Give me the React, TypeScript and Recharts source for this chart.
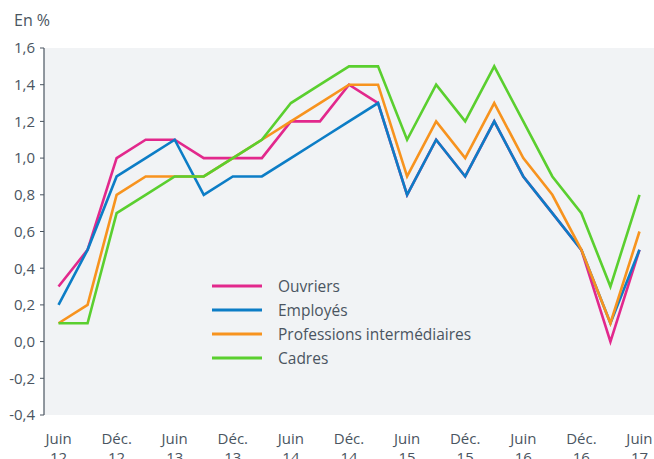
import React from 'react';
import { LineChart, Line, XAxis, YAxis, CartesianGrid, Legend } from 'recharts';

const quarters = [
  'Juin 12', 'Sept. 12', 'Déc. 12', 'Mars 13', 'Juin 13', 'Sept. 13', 'Déc. 13',
  'Mars 14', 'Juin 14', 'Sept. 14', 'Déc. 14', 'Mars 15', 'Juin 15', 'Sept. 15',
  'Déc. 15', 'Mars 16', 'Juin 16', 'Sept. 16', 'Déc. 16', 'Mars 17', 'Juin 17',
];

const ouvriers = [0.3, 0.5, 1.0, 1.1, 1.1, 1.0, 1.0, 1.0, 1.2, 1.2, 1.4, 1.3, 0.8, 1.1, 0.9, 1.2, 0.9, 0.7, 0.5, 0.0, 0.5];
const employes = [0.2, 0.5, 0.9, 1.0, 1.1, 0.8, 0.9, 0.9, 1.0, 1.1, 1.2, 1.3, 0.8, 1.1, 0.9, 1.2, 0.9, 0.7, 0.5, 0.1, 0.5];
const professions = [0.1, 0.2, 0.8, 0.9, 0.9, 0.9, 1.0, 1.1, 1.2, 1.3, 1.4, 1.4, 0.9, 1.2, 1.0, 1.3, 1.0, 0.8, 0.5, 0.1, 0.6];
const cadres = [0.1, 0.1, 0.7, 0.8, 0.9, 0.9, 1.0, 1.1, 1.3, 1.4, 1.5, 1.5, 1.1, 1.4, 1.2, 1.5, 1.2, 0.9, 0.7, 0.3, 0.8];

const yTicks = [-0.4, -0.2, 0.0, 0.2, 0.4, 0.6, 0.8, 1.0, 1.2, 1.4, 1.6];
const labelIndices = [0, 2, 4, 6, 8, 10, 12, 14, 16, 18, 20];
const boundaryTicks = Array.from({ length: quarters.length + 1 }, (_, k) => k - 0.5);

const seriesDefs = [
  { key: 'ouvriers', name: 'Ouvriers', color: '#e2288c' },
  { key: 'employes', name: 'Employés', color: '#0c7dc6' },
  { key: 'professions', name: 'Professions intermédiaires', color: '#f7931e' },
  { key: 'cadres', name: 'Cadres', color: '#5acf2f' },
];

const data = quarters.map((q, i) => ({
  i,
  q,
  ouvriers: ouvriers[i],
  employes: employes[i],
  professions: professions[i],
  cadres: cadres[i],
}));

const TEXT = '#4a5561';
const AXIS = '#4a5561';
const FONT = '"Open Sans", "Noto Sans", sans-serif';

const EmptyTick = () => <g />;

const LabelTick = (props: any) => {
  const { x, y, payload } = props;
  const label = quarters[Math.round(payload.value)] || '';
  const parts = label.split(' ');
  return (
    <text x={x} y={y} textAnchor="middle" fill={TEXT} fontSize={15} fontFamily={FONT}>
      <tspan x={x} y={y + 29}>{parts[0]}</tspan>
      <tspan x={x} y={y + 48}>{parts[1]}</tspan>
    </text>
  );
};

const renderLegend = (props: any) => {
  const payload = [...(props.payload || [])].sort(
    (a: any, b: any) =>
      seriesDefs.findIndex((s) => s.name === a.value) - seriesDefs.findIndex((s) => s.name === b.value)
  );
  return (
    <div style={{ fontFamily: FONT, fontSize: 15.5, color: TEXT }}>
      {payload.map((entry: any) => (
        <div key={entry.value} style={{ display: 'flex', alignItems: 'center', height: 24 }}>
          <svg width={50} height={6} style={{ display: 'block' }}>
            <line x1={0} y1={3} x2={50} y2={3} stroke={entry.color} strokeWidth={3} />
          </svg>
          <span style={{ marginLeft: 16, whiteSpace: 'nowrap' }}>{entry.value}</span>
        </div>
      ))}
    </div>
  );
};

export default function App() {
  return (
    <div style={{ position: 'absolute', left: 0, top: 0, width: 654, height: 459, background: '#fff' }}>
      <div
        style={{
          position: 'absolute',
          left: 14,
          top: 10,
          fontFamily: FONT,
          fontSize: 16,
          color: TEXT,
          lineHeight: '20px',
          zIndex: 2,
        }}
      >
        En %
      </div>
      <LineChart
        width={654}
        height={459}
        data={data}
        margin={{ top: 48, right: 0, bottom: 0, left: 0 }}
      >
        <CartesianGrid xAxisId="m" horizontal={false} vertical={false} fill="#f1f3f5" stroke="none" />
        <XAxis
          xAxisId="m"
          dataKey="i"
          type="number"
          domain={[-0.5, 20.5]}
          ticks={boundaryTicks}
          interval={0}
          height={0}
          tick={EmptyTick}
          tickSize={5}
          axisLine={{ stroke: AXIS, strokeWidth: 1.2 }}
          tickLine={{ stroke: AXIS, strokeWidth: 1 }}
        />
        <XAxis
          xAxisId="l"
          dataKey="i"
          type="number"
          domain={[-0.5, 20.5]}
          ticks={labelIndices}
          interval={0}
          height={44}
          tick={LabelTick}
          tickSize={0}
          tickMargin={0}
          axisLine={false}
          tickLine={false}
        />
        <YAxis
          width={44}
          domain={[-0.4, 1.6]}
          ticks={yTicks}
          interval={0}
          tickSize={4}
          tickMargin={5}
          tickFormatter={(v: number) => v.toFixed(1).replace('.', ',')}
          tick={{ fill: TEXT, fontSize: 15, fontFamily: FONT }}
          axisLine={{ stroke: AXIS, strokeWidth: 1.2 }}
          tickLine={{ stroke: AXIS, strokeWidth: 1 }}
        />
        <Legend
          layout="vertical"
          align="center"
          verticalAlign="middle"
          itemSorter={null as any}
          wrapperStyle={{ left: 212, top: 274, width: 320 }}
          content={renderLegend}
        />
        {seriesDefs.map((s) => (
          <Line
            key={s.key}
            xAxisId="m"
            type="linear"
            dataKey={s.key}
            name={s.name}
            stroke={s.color}
            strokeWidth={2.6}
            dot={false}
            activeDot={false}
            isAnimationActive={false}
          />
        ))}
      </LineChart>
    </div>
  );
}
